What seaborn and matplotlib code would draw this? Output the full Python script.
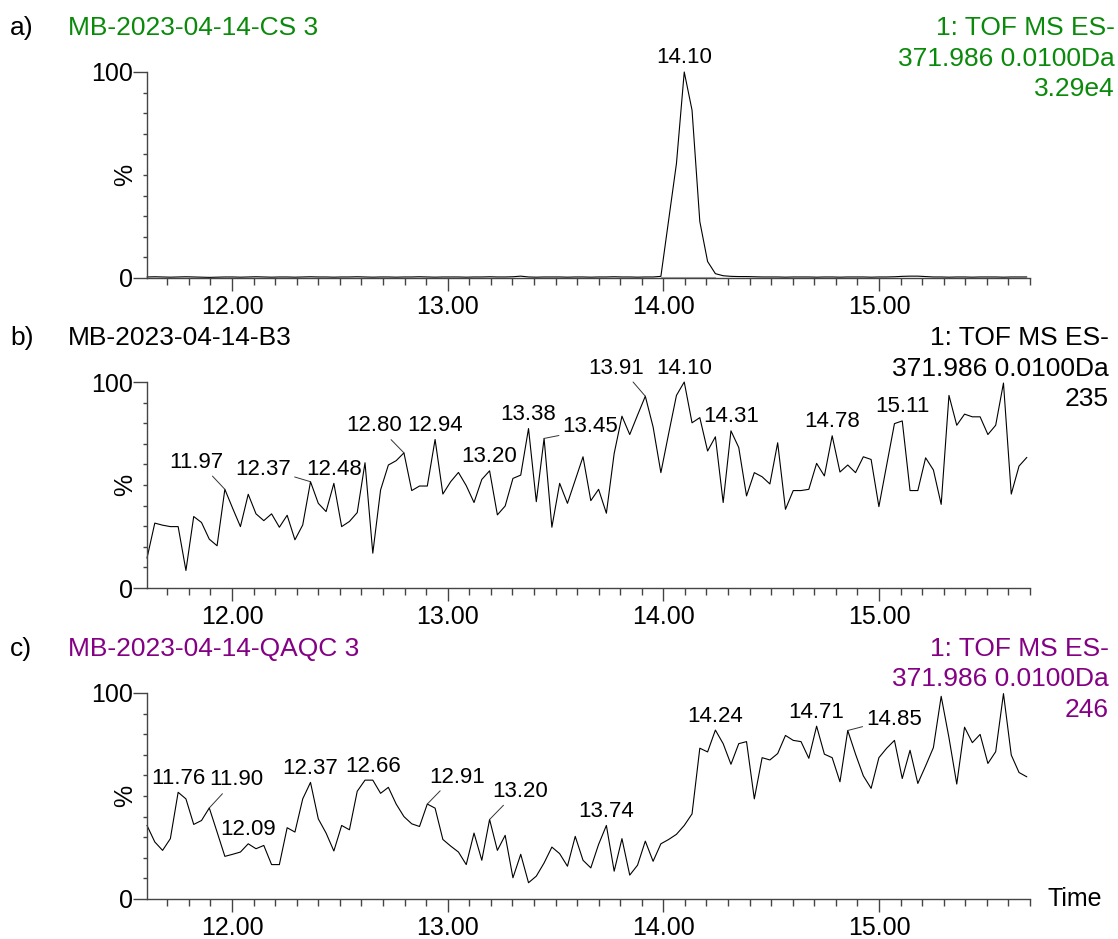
# -*- coding: utf-8 -*-
"""
    三个样品的 371.986 提取离子色谱图（a: CS 3, b: B3, c: QAQC 3）
"""
import numpy as np
import matplotlib
matplotlib.use('Agg')
import matplotlib.pyplot as plt
import seaborn as sns

# 扫描时间: 起点与间隔 (min)
scan_start = 11.606
scan_step = 0.0361
n_scans = 114

# a) MB-2023-04-14-CS 3
cs3_intensity = [
    0.5, 0.6, 0.5, 0.4, 0.5, 0.6, 0.5, 0.4, 0.3, 0.4,
    0.5, 0.5, 0.4, 0.5, 0.6, 0.5, 0.4, 0.5, 0.5, 0.4,
    0.5, 0.6, 0.5, 0.5, 0.4, 0.5, 0.5, 0.6, 0.5, 0.4,
    0.5, 0.5, 0.4, 0.5, 0.5, 0.6, 0.5, 0.4, 0.5, 0.5,
    0.5, 0.4, 0.5, 0.5, 0.6, 0.5, 0.5, 0.6, 0.9, 0.5,
    0.4, 0.5, 0.5, 0.5, 0.4, 0.5, 0.5, 0.4, 0.5, 0.5,
    0.6, 0.5, 0.5, 0.4, 0.5, 0.5, 0.8, 28.2, 55.6, 100.0,
    81.5, 27.4, 8.0, 2.1, 1.1, 0.8, 0.7, 0.7, 0.6, 0.5,
    0.5, 0.5, 0.4, 0.5, 0.5, 0.5, 0.4, 0.5, 0.5, 0.4,
    0.5, 0.5, 0.5, 0.4, 0.5, 0.5, 0.6, 0.8, 0.9, 0.9,
    0.7, 0.5, 0.5, 0.4, 0.5, 0.5, 0.4, 0.5, 0.5, 0.5,
    0.4, 0.5, 0.5, 0.5,
]

# b) MB-2023-04-14-B3
b3_intensity = [
    14.5, 31.5, 30.5, 29.8, 29.8, 8.5, 34.7, 31.8, 23.7, 20.5,
    47.9, 38.7, 29.8, 45.5, 36.0, 32.7, 36.0, 29.5, 35.3, 23.4,
    30.6, 51.6, 41.1, 37.1, 50.8, 29.8, 32.3, 36.6, 60.8, 16.9,
    47.6, 59.7, 61.8, 65.6, 47.3, 49.5, 49.5, 72.1, 45.6, 51.6,
    56.1, 49.7, 41.5, 52.7, 56.9, 35.5, 39.8, 53.2, 54.8, 77.4,
    41.9, 72.6, 29.5, 50.8, 41.1, 52.4, 63.7, 42.4, 47.9, 36.3,
    65.3, 83.4, 74.5, 83.9, 93.1, 78.2, 56.0, 75.0, 93.5, 100.0,
    80.2, 82.7, 66.5, 73.4, 41.5, 76.3, 68.2, 44.7, 56.0, 54.0,
    50.5, 70.5, 38.2, 47.3, 47.3, 47.9, 60.5, 54.4, 73.9, 56.3,
    59.7, 56.0, 63.7, 62.4, 39.5, 59.7, 79.8, 81.1, 47.3, 47.3,
    63.2, 57.3, 40.6, 93.5, 79.0, 84.4, 83.1, 83.1, 74.5, 79.0,
    99.5, 45.6, 59.2, 63.4,
]

# c) MB-2023-04-14-QAQC 3
qaqc3_intensity = [
    35.7, 27.7, 23.6, 29.3, 51.8, 48.6, 36.2, 38.1, 44.2, 32.5,
    20.7, 21.7, 22.8, 26.8, 24.4, 26.0, 16.7, 16.7, 34.6, 32.5,
    48.6, 56.6, 38.9, 32.0, 23.3, 35.7, 33.6, 52.3, 57.7, 57.7,
    51.3, 54.2, 46.1, 40.0, 36.5, 35.2, 46.1, 44.1, 28.9, 25.7,
    22.8, 16.7, 32.0, 18.8, 38.6, 23.6, 30.9, 10.3, 21.7, 7.9,
    11.1, 17.5, 25.2, 22.0, 15.9, 30.4, 18.8, 15.1, 26.5, 35.7,
    13.5, 29.3, 11.6, 16.4, 28.1, 18.3, 26.8, 28.9, 31.4, 35.7,
    41.3, 73.2, 71.4, 82.0, 75.4, 65.4, 75.4, 76.4, 48.6, 68.6,
    67.5, 70.6, 79.4, 77.0, 76.4, 68.3, 83.9, 70.3, 68.6, 56.9,
    81.8, 70.3, 59.8, 53.7, 68.6, 73.2, 77.0, 58.5, 72.2, 56.1,
    64.6, 73.5, 98.4, 78.3, 55.8, 83.4, 75.9, 79.9, 65.8, 71.5,
    99.7, 69.9, 61.4, 59.3,
]

# 峰标注 (保留时间)
cs3_peaks = [14.10]
b3_peaks = [11.97, 12.37, 12.48, 12.80, 12.94, 13.20, 13.38, 13.45,
            13.91, 14.10, 14.31, 14.78, 15.11]
qaqc3_peaks = [11.76, 11.90, 12.09, 12.37, 12.66, 12.91, 13.20, 13.74,
               14.24, 14.71, 14.85]

panel_letters = ['a)', 'b)', 'c)']
sample_names = ['MB-2023-04-14-CS 3', 'MB-2023-04-14-B3', 'MB-2023-04-14-QAQC 3']
header_lines = ['1: TOF MS ES-', '371.986 0.0100Da']
max_counts = ['3.29e4', '235', '246']
x_ticks = [12.0, 13.0, 14.0, 15.0]

# 样式
panel_colors = ['#0a8a0a', 'black', '#840084']
W, H = 1118, 939
DPI = 100

# 带引线的标注: 峰值 -> (dx, dy 像素, relpos)
leader_b = {11.97: (-29, 27, (0.75, 0)), 12.37: (-47, 12, (1, 0.2)),
            12.80: (-30, 27, (0.75, 0)), 13.45: (46, 12, (0, 0.1)),
            13.91: (-29, 28, (0.75, 0))}
leader_c = {11.90: (27, 28, (0.3, 0)), 12.91: (30, 27, (0.25, 0)),
            13.20: (31, 28, (0.25, 0)), 14.85: (46, 11, (0, 0.2))}
leaders = [{}, leader_b, leader_c]


def px(x, y):
    """像素坐标 -> figure 坐标"""
    return x / W, 1 - y / H


def draw_panel(fig, idx, times, values, peaks, bottom_px, header_px, right_px):
    left_px, right_axis_px = 147, 1030
    x0, y0 = px(left_px, bottom_px)
    ax = fig.add_axes([x0, y0, (right_axis_px - left_px) / W, 206 / H])

    sns.lineplot(x=times, y=values, ax=ax, color='black', linewidth=0.8,
                 clip_on=False)

    ax.set_xlim(11.606, 15.70)
    ax.set_ylim(0, 100)
    for s in ['top', 'right']:
        ax.spines[s].set_visible(False)
    for s in ['left', 'bottom']:
        ax.spines[s].set_color('#444444')
        ax.spines[s].set_linewidth(1.0)

    ax.set_xticks(x_ticks)
    ax.set_xticklabels(['{:.2f}'.format(v) for v in x_ticks])
    ax.set_xticks(np.arange(11.7, 15.75, 0.1), minor=True)
    ax.set_yticks([0, 100])
    ax.set_yticklabels(['0', '100'])
    ax.set_yticks(np.arange(10, 100, 10), minor=True)
    ax.tick_params(axis='both', which='both', bottom=True, left=True,
                   direction='out', color='#444444', width=1.0,
                   labelcolor='black')
    ax.tick_params(axis='x', which='major', length=9.5, labelsize=18, pad=3)
    ax.tick_params(axis='x', which='minor', length=5)
    ax.tick_params(axis='y', which='major', length=10, labelsize=18, pad=0)
    ax.tick_params(axis='y', which='minor', length=3)
    ax.set_ylabel('%', fontsize=18, color='black')
    ax.yaxis.set_label_coords(-0.011, 0.5)
    ax.set_xlabel('')

    # 峰标注
    for p in peaks:
        i = int(np.argmin(np.abs(times - p)))
        if p in leaders[idx]:
            dx, dy, rel = leaders[idx][p]
            ax.annotate('{:.2f}'.format(p), xy=(times[i], values[i]),
                        xytext=(dx, dy), textcoords='offset pixels',
                        ha='center', va='center', fontsize=16,
                        color='black', annotation_clip=False,
                        arrowprops=dict(arrowstyle='-', color='#333333',
                                        lw=0.7, relpos=rel,
                                        shrinkA=0, shrinkB=0))
        else:
            ax.annotate('{:.2f}'.format(p), xy=(times[i], values[i]),
                        xytext=(0, 14), textcoords='offset pixels',
                        ha='center', va='center', fontsize=16,
                        color='black', annotation_clip=False)

    # 标题与右上角信息
    hy = header_px
    fig.text(*px(10, hy), panel_letters[idx], fontsize=19, va='center',
             color='black')
    fig.text(*px(68, hy), sample_names[idx], fontsize=19, va='center',
             color=panel_colors[idx])
    lines = header_lines + [max_counts[idx]]
    for k, line in enumerate(lines):
        fig.text(*px(right_px, hy + 30.5 * k), line, fontsize=19,
                 va='center', ha='right', color=panel_colors[idx])
    return ax


def main():
    sns.set_theme(style='ticks')
    plt.rcParams['font.family'] = ['Liberation Sans', 'DejaVu Sans']
    plt.rcParams['text.color'] = 'black'

    times = np.round(scan_start + scan_step * np.arange(n_scans), 4)
    fig = plt.figure(figsize=(W / DPI, H / DPI), dpi=DPI)

    ax_a = draw_panel(fig, 0, times, np.array(cs3_intensity), cs3_peaks,
                      278, 28, 1115)
    # 积分基线
    ax_a.plot([times[66], times[73]], [0.4, 0.4], color='#aaaaaa', lw=0.8)
    draw_panel(fig, 1, times, np.array(b3_intensity), b3_peaks, 588, 338, 1109)
    draw_panel(fig, 2, times, np.array(qaqc3_intensity), qaqc3_peaks,
               899, 649, 1109)

    fig.text(*px(1047, 899), 'Time', fontsize=18, va='center', ha='left')

    fig.savefig('out.png', dpi=DPI)


if __name__ == '__main__':
    main()
